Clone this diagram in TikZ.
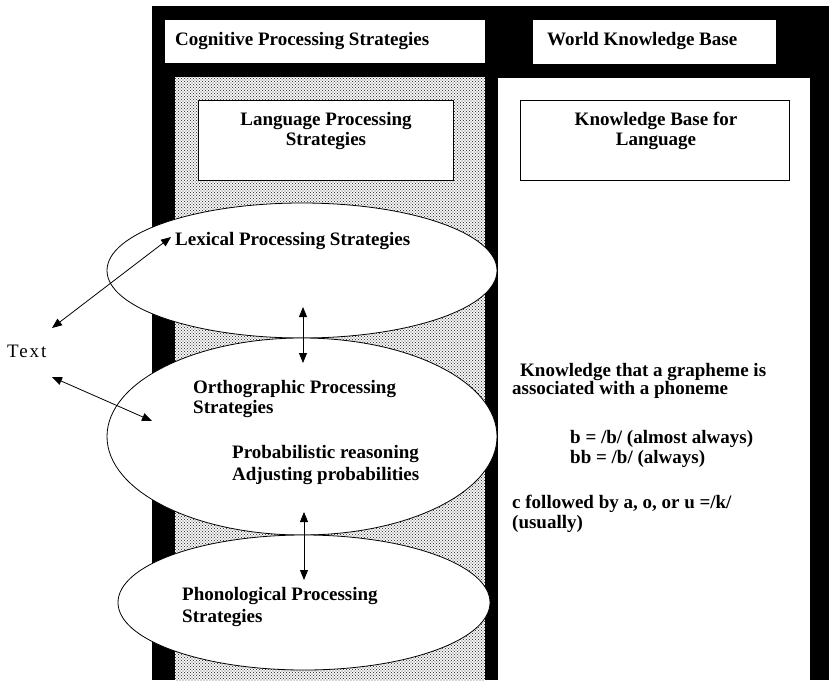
\documentclass[tikz,border=0pt]{standalone}
\usepackage{fontspec}
\setmainfont{Liberation Serif}
\usetikzlibrary{arrows.meta,shapes.geometric,patterns}

% fine staggered dot screen for the strategies column
\pgfdeclarepatternformonly{fine dots}{\pgfqpoint{-0.8pt}{-0.8pt}}{\pgfqpoint{2.3pt}{2.3pt}}{\pgfqpoint{3pt}{3pt}}{%
  \pgfpathcircle{\pgfqpoint{0pt}{0pt}}{0.72pt}%
  \pgfpathcircle{\pgfqpoint{1.5pt}{1.5pt}}{0.72pt}%
  \pgfusepath{fill}}

\begin{document}
\begin{tikzpicture}[x=1pt,y=-1pt,
  lbl/.style={font=\fontsize{19}{21}\selectfont\bfseries, inner sep=0pt, anchor=base west, align=left},
  clbl/.style={font=\fontsize{19}{20}\selectfont\bfseries, inner sep=0pt, anchor=base, align=center},
  box/.style={draw=black, line width=0.9pt, fill=white, inner sep=0pt, anchor=north west},
  hdr/.style={fill=white, inner sep=0pt, anchor=north west},
  stage/.style={ellipse, draw=black, line width=0.8pt, fill=white, inner sep=0pt},
  link/.style={line width=0.8pt, {Triangle[length=10pt,width=8pt]}-{Triangle[length=10pt,width=8pt]}}]
\useasboundingbox (0,0) rectangle (829,680);

% black frame and the two columns
\fill[black] (152,6) rectangle (829,680);
\node[hdr, minimum width=320pt, minimum height=43pt] (hdrL) at (165,20) {};
\node[hdr, minimum width=243pt, minimum height=44pt] (hdrR) at (533,20) {};
\fill[white] (175,77) rectangle (485,680);
\fill[pattern=fine dots, pattern color=black!75] (175,77) rectangle (485,680);
\fill[white] (498,78) rectangle (810,680);

% titled boxes
\node[box, minimum width=255pt, minimum height=80pt] (lps) at (198,100) {};
\node[box, minimum width=269pt, minimum height=80pt] (kbl) at (520,100) {};

% processing stages
\node[stage, minimum width=390pt, minimum height=135pt] (lex) at (302,270.5) {};
\node[stage, minimum width=390pt, minimum height=197pt] (orth) at (302,436.5) {};
\node[stage, minimum width=372pt, minimum height=135pt] (phon) at (304,602.5) {};

% labels (for two-line labels the anchor sits on the last baseline)
\node[lbl] (tL) at (175,45) {Cognitive Processing Strategies};
\node[lbl] (tR) at (547,45) {World Knowledge Base};
\node[clbl] (tlps) at (326,145) {Language Processing\\Strategies};
\node[clbl] (tkbl) at (656,145) {Knowledge Base for\\Language};
\node[lbl] (tlex) at (175,245) {Lexical Processing Strategies};
\node[lbl, font=\fontsize{19}{20}\selectfont\bfseries] (torth) at (193,413) {Orthographic Processing\\Strategies};
\node[lbl, font=\fontsize{19}{22}\selectfont\bfseries] (tprob) at (232,480) {Probabilistic reasoning\\Adjusting probabilities};
\node[lbl, font=\fontsize{19}{22}\selectfont\bfseries] (tphon) at (182,622) {Phonological Processing\\Strategies};
\node[lbl, font=\fontsize{19}{21}\selectfont\addfontfeature{LetterSpace=10}] (text) at (7,357) {Text};

\node[lbl, font=\fontsize{19}{18}\selectfont\bfseries] (kg) at (512,394) {\hspace*{8pt}Knowledge that a grapheme is\\associated with a phoneme};
\node[lbl, font=\fontsize{19}{20}\selectfont\bfseries] (kb) at (570,463) {b = /b/ (almost always)\\bb = /b/ (always)};
\node[lbl, font=\fontsize{19}{20}\selectfont\bfseries] (kc) at (512,528) {c followed by a, o, or u =/k/\\(usually)};

% connectors
\coordinate (a1) at (52,328);
\coordinate (a2) at (171,237);
\coordinate (b1) at (52,377);
\coordinate (b2) at (152,421);
\coordinate (c1) at (303,307);
\coordinate (c2) at (303,363);
\coordinate (d1) at (304,512);
\coordinate (d2) at (304,580);
\draw[link] (a1) -- (a2);
\draw[link] (b1) -- (b2);
\draw[link] (c1) -- (c2);
\draw[link] (d1) -- (d2);
\end{tikzpicture}
\end{document}
